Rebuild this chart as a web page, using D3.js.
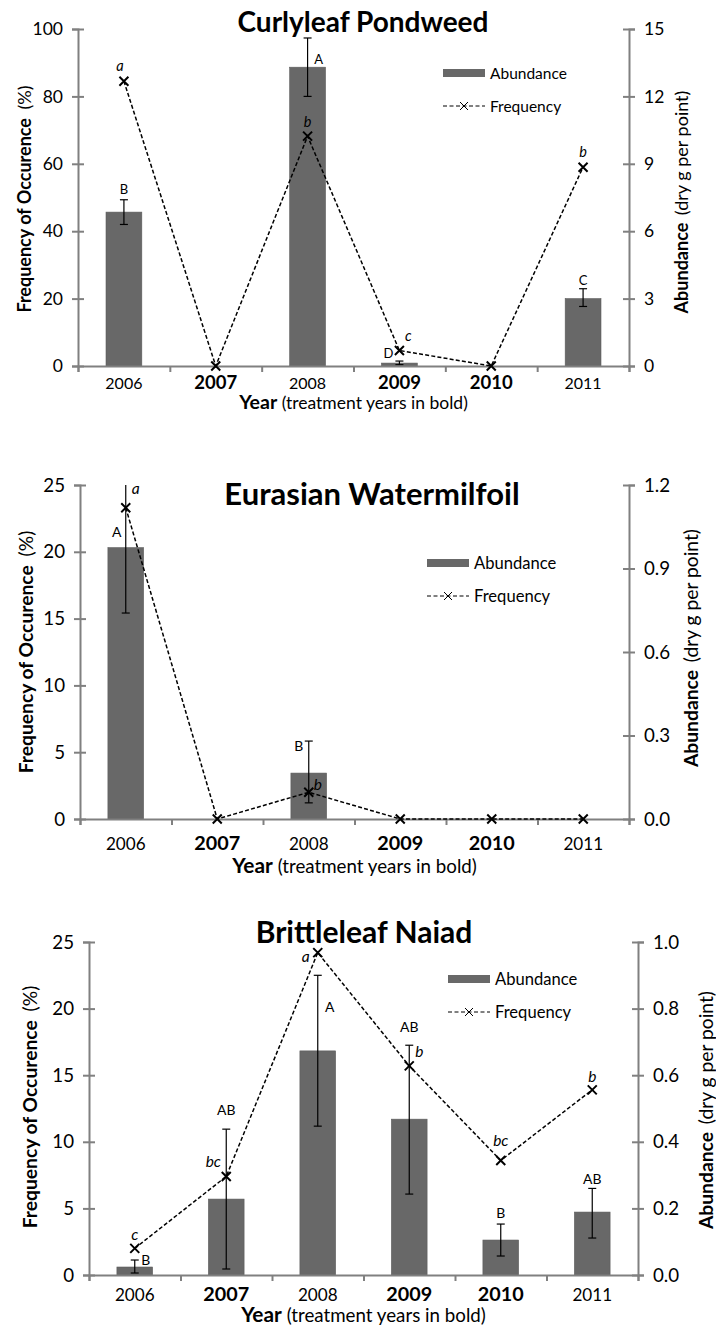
<!DOCTYPE html>
<html>
<head>
<meta charset="utf-8">
<title>Frequency and abundance of three aquatic plants</title>
<script src="https://cdn.jsdelivr.net/npm/d3@7"></script>
<style>
body { margin: 0; background: #fff; }
svg text { font-family: Lato, "Open Sans", sans-serif; fill: #000; }
</style>
</head>
<body>
<svg id="chart" width="716" height="1330"></svg>
<script>

/* ---------- data ---------- */
var years = ["2006", "2007", "2008", "2009", "2010", "2011"];
var treatmentYears = ["2007", "2009", "2010"];

// Curlyleaf Pondweed
var cpFreq = [84.5, 0, 68.2, 4.6, 0, 59.0];
var cpFreqLetters = ["a", "", "b", "c", "", "b"];
var cpAbund = [6.85, 0, 13.3, 0.13, 0, 3.0];
var cpAbundLow = [6.3, null, 12.0, 0.06, null, 2.65];
var cpAbundHigh = [7.4, null, 14.6, 0.22, null, 3.44];
var cpAbundLetters = ["B", "", "A", "D", "", "C"];
var cpFreqTicks = [0, 20, 40, 60, 80, 100];
var cpAbundTicks = [0, 3, 6, 9, 12, 15];

// Eurasian Watermilfoil
var ewFreq = [23.3, 0, 2.0, 0, 0, 0];
var ewFreqLetters = ["a", "", "b", "", "", ""];
var ewAbund = [0.975, 0, 0.165, 0, 0, 0];
var ewAbundLow = [0.74, null, 0.058, null, null, null];
var ewAbundHigh = [1.21, null, 0.28, null, null, null];
var ewAbundLetters = ["A", "", "B", "", "", ""];
var ewFreqTicks = [0, 5, 10, 15, 20, 25];
var ewAbundTicks = [0, 0.3, 0.6, 0.9, 1.2];

// Brittleleaf Naiad
var bnFreq = [2.0, 7.4, 24.2, 15.7, 8.6, 13.9];
var bnFreqLetters = ["c", "bc", "a", "b", "bc", "b"];
var bnAbund = [0.024, 0.228, 0.673, 0.468, 0.105, 0.189];
var bnAbundLow = [0.006, 0.018, 0.447, 0.243, 0.057, 0.111];
var bnAbundHigh = [0.045, 0.438, 0.90, 0.69, 0.153, 0.26];
var bnAbundLetters = ["B", "AB", "A", "AB", "B", "AB"];
var bnFreqTicks = [0, 5, 10, 15, 20, 25];
var bnAbundTicks = [0, 0.2, 0.4, 0.6, 0.8, 1.0];

/* ---------- layout of each panel ---------- */
// letter placement: [anchor, dx, dy] for abundance, [dx, dy] for frequency
var panels = [
  {
    title: "Curlyleaf Pondweed",
    freq: cpFreq, freqLetters: cpFreqLetters,
    abund: cpAbund, low: cpAbundLow, high: cpAbundHigh, abundLetters: cpAbundLetters,
    freqTicks: cpFreqTicks, abundTicks: cpAbundTicks, abundFormat: "d",
    left: 78, right: 629, top: 29, bottom: 366, fs: 1.0,
    titleX: 363, titleY: 32, titleSize: 28, tickY: 389, xTitleY: 409,
    yLabelX: 31, yLabelY: 199, rLabelX: 688, rLabelY: 202,
    legendX: 443, legendY: 73,
    abundPos: [["err", 0, -6], null, ["bar", 11, -3], ["bar", -11, -5], null, ["err", 0, -4]],
    freqPos: [[-4, -10], null, [0, -9], [9, -9], null, [0, -10]]
  },
  {
    title: "Eurasian Watermilfoil",
    freq: ewFreq, freqLetters: ewFreqLetters,
    abund: ewAbund, low: ewAbundLow, high: ewAbundHigh, abundLetters: ewAbundLetters,
    freqTicks: ewFreqTicks, abundTicks: ewAbundTicks, abundFormat: ".1f",
    left: 80, right: 629, top: 485, bottom: 819, fs: 1.07,
    titleX: 372, titleY: 505, titleSize: 31, tickY: 850, xTitleY: 873,
    yLabelX: 33, yLabelY: 652, rLabelX: 698, rLabelY: 648,
    legendX: 427, legendY: 563,
    abundPos: [["bar", -9, -11], null, ["err", -10, 10], null, null, null],
    freqPos: [[10, -14], null, [9, -2], null, null, null]
  },
  {
    title: "Brittleleaf Naiad",
    freq: bnFreq, freqLetters: bnFreqLetters,
    abund: bnAbund, low: bnAbundLow, high: bnAbundHigh, abundLetters: bnAbundLetters,
    freqTicks: bnFreqTicks, abundTicks: bnAbundTicks, abundFormat: ".1f",
    left: 89, right: 638, top: 942, bottom: 1275, fs: 1.07,
    titleX: 364, titleY: 943, titleSize: 30, tickY: 1301, xTitleY: 1322,
    yLabelX: 37, yLabelY: 1107, rLabelX: 713, rLabelY: 1110,
    legendX: 448, legendY: 979,
    abundPos: [["bar", 11, -2], ["err", 0, -14], ["err", 12, 37], ["err", 0, -13], ["err", 0, -6], ["err", 0, -4]],
    freqPos: [[0, -8], [-13, -9], [-12, 9], [10, -9], [0, -14], [0, -8]]
  }
];

var barColor = "#686868";
var axisColor = "#808080";

var svg = d3.select("#chart");

panels.forEach(function(p, pi) {
  var g = svg.append("g").attr("class", "panel");
  var fs = p.fs;

  // scales
  var xBand = d3.scaleBand()
      .domain(years)
      .range([p.left, p.right])
      .paddingInner(0.61)
      .paddingOuter(0.305);
  var xEdge = d3.scaleLinear().domain([0, years.length]).range([p.left, p.right]);
  var yFreq = d3.scaleLinear()
      .domain([0, d3.max(p.freqTicks)])
      .range([p.bottom, p.top]);
  var yAbund = d3.scaleLinear()
      .domain([0, d3.max(p.abundTicks)])
      .range([p.bottom, p.top]);
  var cx = function(i) { return xBand(years[i]) + xBand.bandwidth() / 2; };

  // clip for error bars that run past the top
  var clipId = "clip" + pi;
  g.append("clipPath").attr("id", clipId)
    .append("rect")
    .attr("x", p.left).attr("y", p.top)
    .attr("width", p.right - p.left).attr("height", p.bottom - p.top);

  // bars
  g.append("g").selectAll("rect")
    .data(p.abund)
    .enter().append("rect")
    .attr("x", function(d, i) { return xBand(years[i]); })
    .attr("y", function(d) { return yAbund(d); })
    .attr("width", xBand.bandwidth())
    .attr("height", function(d) { return p.bottom - yAbund(d); })
    .attr("fill", barColor)
    .attr("stroke", "#5c5c5c")
    .attr("stroke-width", 0.6);

  // error bars
  var errs = p.abund.map(function(d, i) {
    return { i: i, lo: p.low[i], hi: p.high[i] };
  }).filter(function(d) { return d.lo !== null; });

  var eg = g.append("g").attr("clip-path", "url(#" + clipId + ")")
      .attr("stroke", "#000").attr("stroke-width", 1.2);
  errs.forEach(function(e) {
    var x = cx(e.i);
    eg.append("line").attr("x1", x).attr("x2", x)
      .attr("y1", yAbund(e.lo)).attr("y2", yAbund(e.hi));
    [e.lo, e.hi].forEach(function(v) {
      eg.append("line").attr("x1", x - 4).attr("x2", x + 4)
        .attr("y1", yAbund(v)).attr("y2", yAbund(v));
    });
  });

  // axes
  var leftAxis = d3.axisLeft(yFreq).tickValues(p.freqTicks).tickSizeOuter(0).tickSize(6).tickPadding(9);
  var rightAxis = d3.axisRight(yAbund).tickValues(p.abundTicks).tickSizeOuter(0).tickSize(6)
      .tickPadding(9).tickFormat(d3.format(p.abundFormat));
  var bottomAxis = d3.axisBottom(xEdge).tickValues(d3.range(years.length + 1))
      .tickFormat("").tickSizeOuter(0).tickSize(6);

  function styleAxis(sel) {
    sel.select(".domain").attr("stroke", axisColor).attr("stroke-width", 2);
    sel.selectAll(".tick line").attr("stroke", axisColor).attr("stroke-width", 2);
    sel.selectAll(".tick text")
      .style("font-family", "Lato, sans-serif")
      .style("font-size", (17.5 * fs) + "px")
      .attr("fill", "#000");
  }

  var la = g.append("g").attr("transform", "translate(" + p.left + ",0)").call(leftAxis).call(styleAxis);
  la.selectAll(".tick line").attr("x1", 6);
  var ra = g.append("g").attr("transform", "translate(" + p.right + ",0)").call(rightAxis).call(styleAxis);
  ra.selectAll(".tick line").attr("x1", -6);
  g.append("g").attr("transform", "translate(0," + p.bottom + ")").call(bottomAxis).call(styleAxis);

  // year labels
  g.append("g").selectAll("text")
    .data(years)
    .enter().append("text")
    .attr("x", function(d, i) { return cx(i); })
    .attr("y", p.tickY)
    .attr("text-anchor", "middle")
    .style("font-weight", function(d) { return treatmentYears.indexOf(d) >= 0 ? "bold" : "normal"; })
    .style("font-size", function(d) { return (treatmentYears.indexOf(d) >= 0 ? 18.5 : 16) * fs + "px"; })
    .text(function(d) { return d; });

  // frequency line + markers
  var line = d3.line()
      .x(function(d, i) { return cx(i); })
      .y(function(d) { return yFreq(d); });
  g.append("path")
    .datum(p.freq)
    .attr("d", line)
    .attr("fill", "none")
    .attr("stroke", "#000")
    .attr("stroke-width", 1.5)
    .attr("stroke-dasharray", "4,2.2");
  g.append("g").selectAll("path")
    .data(p.freq)
    .enter().append("path")
    .attr("transform", function(d, i) { return "translate(" + cx(i) + "," + yFreq(d) + ")"; })
    .attr("d", "M-4.5,-4.5L4.5,4.5M-4.5,4.5L4.5,-4.5")
    .attr("stroke", "#000")
    .attr("stroke-width", 2);

  // significance letters: abundance (upright)
  var aLetters = p.abundLetters.map(function(t, i) { return { t: t, i: i }; })
      .filter(function(d) { return d.t !== ""; });
  g.append("g").selectAll("text")
    .data(aLetters)
    .enter().append("text")
    .attr("x", function(d) { return cx(d.i) + p.abundPos[d.i][1]; })
    .attr("y", function(d) {
      var pos = p.abundPos[d.i];
      var base = pos[0] === "err" ? yAbund(p.high[d.i]) : yAbund(p.abund[d.i]);
      return base + pos[2];
    })
    .attr("text-anchor", "middle")
    .style("font-size", (13 * fs) + "px")
    .text(function(d) { return d.t; });

  // significance letters: frequency (italic)
  var fLetters = p.freqLetters.map(function(t, i) { return { t: t, i: i }; })
      .filter(function(d) { return d.t !== ""; });
  g.append("g").selectAll("text")
    .data(fLetters)
    .enter().append("text")
    .attr("x", function(d) { return cx(d.i) + p.freqPos[d.i][0]; })
    .attr("y", function(d) { return yFreq(p.freq[d.i]) + p.freqPos[d.i][1]; })
    .attr("text-anchor", "middle")
    .style("font-style", "italic")
    .style("font-size", (14.5 * fs) + "px")
    .text(function(d) { return d.t; });

  // title
  g.append("text")
    .attr("x", p.titleX)
    .attr("y", p.titleY)
    .attr("text-anchor", "middle")
    .style("font-weight", "bold")
    .style("font-size", p.titleSize + "px")
    .text(p.title);

  // x axis title
  var xt = g.append("text")
    .attr("x", (p.left + p.right) / 2)
    .attr("y", p.xTitleY)
    .attr("text-anchor", "middle")
    .style("font-size", (17.5 * fs) + "px");
  xt.append("tspan").style("font-weight", "bold").style("font-size", (19.5 * fs) + "px").text("Year");
  xt.append("tspan").text(" (treatment years in bold)");

  // left axis title
  var yt = g.append("text")
    .attr("transform", "translate(" + p.yLabelX + "," + p.yLabelY + ") rotate(-90)")
    .attr("text-anchor", "middle")
    .style("font-size", (18 * fs) + "px");
  yt.append("tspan").style("font-weight", "bold").text("Frequency of Occurence");
  yt.append("tspan").attr("dx", 4).text(" (%)");

  // right axis title
  var rt = g.append("text")
    .attr("transform", "translate(" + p.rLabelX + "," + p.rLabelY + ") rotate(-90)")
    .attr("text-anchor", "middle")
    .style("font-size", (18 * fs) + "px");
  rt.append("tspan").style("font-weight", "bold").text("Abundance");
  rt.append("tspan").attr("dx", 3).text(" (dry g per point)");

  // legend
  var lg = g.append("g").attr("transform", "translate(" + p.legendX + "," + p.legendY + ")");
  lg.append("rect").attr("x", 0).attr("y", -4).attr("width", 42).attr("height", 8).attr("fill", barColor);
  lg.append("text").attr("x", 47).attr("y", 5.5).style("font-size", (15.5 * fs) + "px").text("Abundance");
  lg.append("line").attr("x1", 0).attr("x2", 42).attr("y1", 33).attr("y2", 33)
    .attr("stroke", "#000").attr("stroke-width", 1).attr("stroke-dasharray", "4,2.5");
  lg.append("path").attr("transform", "translate(21,33)")
    .attr("d", "M-4,-4L4,4M-4,4L4,-4").attr("stroke", "#000").attr("stroke-width", 1);
  lg.append("text").attr("x", 47).attr("y", 38.5).style("font-size", (15.5 * fs) + "px").text("Frequency");
});

</script>
</body>
</html>
